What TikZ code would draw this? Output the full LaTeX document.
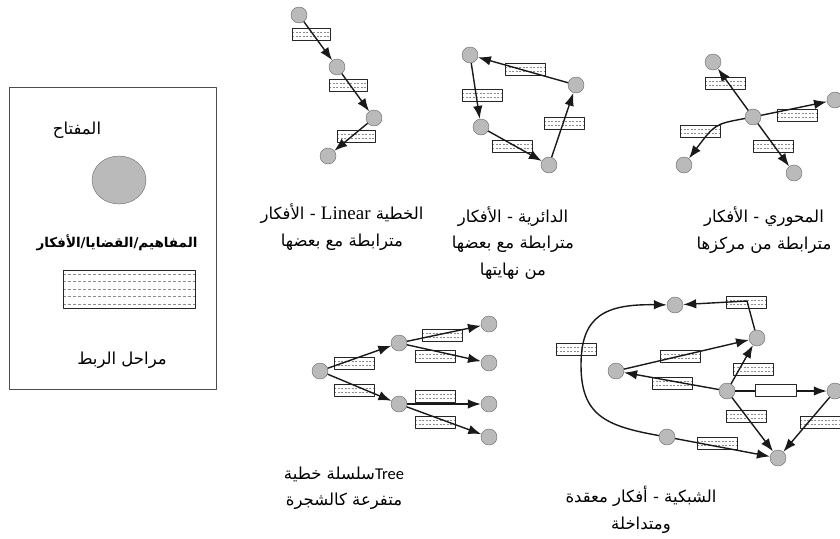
\documentclass[tikz,border=0pt]{standalone}
\usepackage{fontspec}
\usetikzlibrary{arrows.meta,shapes.geometric}
\TeXXeTstate=1
\newfontfamily\arabicfont[Script=Arabic]{DejaVu Sans}
\newfontfamily\serifrm{Liberation Serif}
\newfontfamily\calibrisans{Carlito}
\newcommand{\artext}[1]{\beginR #1\endR}
\begin{document}
\begin{tikzpicture}[x=1pt, y=-1pt, >={Latex[length=13pt,width=9.5pt]}, line join=round,
  idea/.style={circle, draw=black!60, fill=black!27, minimum size=16pt, inner sep=0pt},
  link/.style={draw=black!85, fill=white, minimum width=40pt, minimum height=12pt, inner sep=0pt,
    path picture={\draw[black!45, dash pattern=on 2pt off 1.5pt]
      ([yshift=-4pt]path picture bounding box.north west) -- ([yshift=-4pt]path picture bounding box.north east)
      ([yshift=4pt]path picture bounding box.south west) -- ([yshift=4pt]path picture bounding box.south east);}},
  keylink/.style={draw=black!85, fill=white, minimum width=132pt, minimum height=38pt, inner sep=0pt,
    path picture={\foreach \d in {4,11.5,19,26.5,34}
      \draw[black!45, dash pattern=on 3pt off 2pt]
      ([yshift=-\d pt]path picture bounding box.north west) -- ([yshift=-\d pt]path picture bounding box.north east);}},
  conn/.style={->, draw=black!90, line width=1.4pt},
  caption/.style={font=\arabicfont\fontsize{16.5}{26.5}\selectfont, align=center}]
\useasboundingbox (0,0) rectangle (840,538);

% key
\draw[black!70] (9,87) rectangle (216,389);
\node[caption] (keytitle) at (77,130) {\artext{المفتاح}};
\node[ellipse, draw=black!60, fill=black!27, minimum width=54pt, minimum height=48pt] (keyidea) at (119,180) {};
\node[font=\arabicfont\bfseries\fontsize{13.5}{15}\selectfont] (keyideaname) at (117,243) {\artext{المفاهيم/القضايا/الأفكار}};
\node[keylink] (keylinkbox) at (129,289) {};
\node[caption] (keylinkname) at (122,360) {\artext{مراحل الربط}};

% linear
\node[idea] (l1) at (299,15) {};
\node[idea] (l2) at (337,67) {};
\node[idea] (l3) at (374,118) {};
\node[idea] (l4) at (328,156) {};
\node[link, minimum width=38pt] (ll1) at (311,34) {};
\node[link, minimum width=38pt] (ll2) at (348,85) {};
\node[link, minimum width=38pt] (ll3) at (356,136) {};
\draw[conn] (l1) -- (l2);
\draw[conn] (l2) -- (l3);
\draw[conn] (l3) -- (l4);
\node[caption] (linearname) at (342,227)
  {\artext{الخطية \beginL{\serifrm\fontsize{19}{26.5}\selectfont Linear}\endL{}  - الأفكار}\\\artext{مترابطة مع بعضها}};

% circular
\node[idea] (c1) at (470,55) {};
\node[idea] (c2) at (576,85) {};
\node[idea] (c3) at (481,127) {};
\node[idea] (c4) at (549,165) {};
\node[link] (cl1) at (525,69) {};
\node[link] (cl2) at (482,95) {};
\node[link] (cl3) at (512,146) {};
\node[link] (cl4) at (564,123) {};
\draw[conn] (c1) -- (c3);
\draw[conn] (c3) -- (c4);
\draw[conn] (c4) -- (c2);
\draw[conn] (c2) -- (c1);
\node[caption] (circularname) at (513,243)
  {\artext{الدائرية - الأفكار}\\\artext{مترابطة مع بعضها}\\\artext{من نهايتها}};

% hub
\node[idea] (h) at (753,117) {};
\node[idea] (h1) at (713,62) {};
\node[idea] (h2) at (835,100) {};
\node[idea] (h3) at (684,165) {};
\node[idea] (h4) at (794,173) {};
\node[link] (hl1) at (725,83) {};
\node[link] (hl2) at (797,115) {};
\node[link] (hl3) at (700,131) {};
\node[link] (hl4) at (773,146) {};
\draw[conn] (h) -- (h1);
\draw[conn] (h) -- (h2);
\draw[conn] (h) .. controls (715,124) .. (h3);
\draw[conn] (h) -- (h4);
\node[caption] (hubname) at (764,230)
  {\artext{المحوري - الأفكار}\\\artext{مترابطة من مركزها}};

% tree
\node[idea] (t) at (320,371) {};
\node[idea] (tu) at (399,343) {};
\node[idea] (tw) at (399,404) {};
\node[idea] (t1) at (489,324) {};
\node[idea] (t2) at (489,363) {};
\node[idea] (t3) at (489,404) {};
\node[idea] (t4) at (489,437) {};
\node[link] (tl1) at (354,363) {};
\node[link] (tl2) at (354,390) {};
\node[link] (tl3) at (442,335) {};
\node[link] (tl4) at (435,356) {};
\node[link] (tl5) at (435,396) {};
\node[link] (tl6) at (435,422) {};
\draw[conn] (t) -- (tu);
\draw[conn] (t) -- (tw);
\draw[conn] (tu) -- (t1);
\draw[conn] (tu) -- (t2);
\draw[conn] (tw) -- (t3);
\draw[conn] (tw) -- (t4);
\node[caption] (treename) at (344,488)
  {\artext{\beginL{\calibrisans Tree}\endL{}سلسلة خطية}\\\artext{متفرعة كالشجرة}};

% network
\node[idea] (n1) at (675,305) {};
\node[idea] (n2) at (757,338) {};
\node[idea] (n3) at (616,371) {};
\node[idea] (n4) at (727,391) {};
\node[idea] (n5) at (835,391) {};
\node[idea] (n6) at (667,437) {};
\node[idea] (n7) at (778,458) {};
\coordinate (nbend) at (747,301);
\coordinate (nleft) at (581,365);
\node[link] (nl1) at (746,302) {};
\node[link] (nl2) at (576,349) {};
\node[link] (nl3) at (680,356) {};
\node[link] (nl4) at (672,383) {};
\node[link] (nl5) at (753,369) {};
\node[link] (nl7) at (746,416) {};
\node[link] (nl8) at (820,422) {};
\node[link] (nl9) at (717,443) {};
\draw[conn] (n2) -- (nbend) -- (n1);
\draw[conn] (n6) .. controls (605,426) and (581,415) .. (nleft) .. controls (581,316) and (605,304) .. (n1);
\draw[conn] (n3) -- (n2);
\draw[conn] (n4) -- (n3);
\draw[conn] (n4) -- (n2);
\draw[conn] (n4) -- (n5);
\draw[conn] (n4) -- (n7);
\draw[conn] (n5) -- (n7);
\draw[conn] (n6) -- (n7);
\node[draw=black!85, fill=white, minimum width=41pt, minimum height=12pt, inner sep=0pt] (nl6) at (776,390) {};
\node[caption] (networkname) at (641,510)
  {\artext{الشبكية - أفكار معقدة}\\\artext{ومتداخلة}};
\end{tikzpicture}
\end{document}
